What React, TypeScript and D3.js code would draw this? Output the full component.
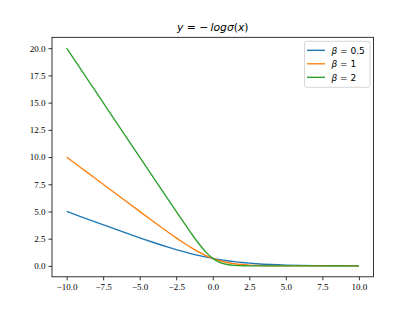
import { FC, useEffect, useRef } from 'react';
import * as d3 from 'd3';

// x positions where the curves were read
const xs = [-10, -9, -8, -7, -6, -5, -4, -3, -2.5, -2, -1.5, -1, -0.5, 0, 0.5, 1, 1.5, 2, 2.5, 3, 4, 5, 6, 7, 8, 9, 10];

const beta05 = [5.007, 4.511, 4.018, 3.53, 3.049, 2.579, 2.127, 1.701, 1.502, 1.313, 1.137, 0.974, 0.826, 0.693, 0.576, 0.474, 0.387, 0.313, 0.252, 0.201, 0.127, 0.079, 0.049, 0.03, 0.018, 0.011, 0.007];
const beta1 = [10.0, 9.0, 8.0, 7.001, 6.002, 5.007, 4.018, 3.049, 2.579, 2.127, 1.701, 1.313, 0.974, 0.693, 0.474, 0.313, 0.201, 0.127, 0.079, 0.049, 0.018, 0.007, 0.002, 0.001, 0.0, 0.0, 0.0];
const beta2 = [20.0, 18.0, 16.0, 14.0, 12.0, 10.0, 8.0, 6.002, 5.007, 4.018, 3.049, 2.127, 1.313, 0.693, 0.313, 0.127, 0.049, 0.018, 0.007, 0.002, 0.0, 0.0, 0.0, 0.0, 0.0, 0.0, 0.0];

const seriesNames = ['0.5', '1', '2'];
const colors = ['#1f77b4', '#ff7f0e', '#2ca02c'];

const xTicks = [-10, -7.5, -5, -2.5, 0, 2.5, 5, 7.5, 10];
const yTicks = [0, 2.5, 5, 7.5, 10, 12.5, 15, 17.5, 20];

const App: FC = () => {
  const chartRef = useRef<HTMLDivElement>(null);

  useEffect(() => {
    const W = 415;
    const H = 311;
    const left = 52, right = 373.5, top = 37.3, bottom = 276.8;
    const tickFont = '"Liberation Serif", "Times New Roman", serif';
    const mathFont = '"DejaVu Sans", sans-serif';

    d3.select(chartRef.current).selectAll('*').remove();
    const svg = d3
      .select(chartRef.current)
      .append('svg')
      .attr('width', W)
      .attr('height', H)
      .style('display', 'block');

    svg.append('rect').attr('width', W).attr('height', H).attr('fill', '#fff');

    const x = d3.scaleLinear().domain([-11, 11]).range([left, right]);
    const y = d3.scaleLinear().domain([-1, 21]).range([bottom, top]);

    // x axis
    const xAxis = svg
      .append('g')
      .attr('transform', `translate(0,${bottom})`)
      .call(
        d3.axisBottom(x).tickValues(xTicks).tickSize(3.5).tickPadding(3).tickFormat(d3.format('.1f'))
      );
    xAxis.select('.domain').remove();
    xAxis.selectAll('line').attr('stroke', '#000').attr('stroke-width', 0.8);
    xAxis
      .selectAll('text')
      .attr('font-family', tickFont)
      .attr('font-size', 9)
      .attr('fill', '#000')
      .text((d) => d3.format('.1f')(d as number).replace('-', '\u2212'));

    // y axis
    const yAxis = svg
      .append('g')
      .attr('transform', `translate(${left},0)`)
      .call(d3.axisLeft(y).tickValues(yTicks).tickSize(3.5).tickPadding(3).tickFormat(d3.format('.1f')));
    yAxis.select('.domain').remove();
    yAxis.selectAll('line').attr('stroke', '#000').attr('stroke-width', 0.8);
    yAxis.selectAll('text').attr('font-family', tickFont).attr('font-size', 9).attr('fill', '#000');

    // lines
    const line = d3
      .line<number>()
      .x((_, i) => x(xs[i]))
      .y((d) => y(d))
      .curve(d3.curveMonotoneX);

    [beta05, beta1, beta2].forEach((vals, i) => {
      svg
        .append('path')
        .datum(vals)
        .attr('d', line)
        .attr('fill', 'none')
        .attr('stroke', colors[i])
        .attr('stroke-width', 1.35);
    });

    // frame
    svg
      .append('rect')
      .attr('x', left)
      .attr('y', top)
      .attr('width', right - left)
      .attr('height', bottom - top)
      .attr('fill', 'none')
      .attr('stroke', '#000')
      .attr('stroke-width', 0.8);

    // title
    const title = svg
      .append('text')
      .attr('x', (left + right) / 2)
      .attr('y', top - 6.5)
      .attr('text-anchor', 'middle')
      .attr('font-family', mathFont)
      .attr('font-size', 10.8)
      .attr('fill', '#000');
    title.append('tspan').attr('font-style', 'italic').text('y');
    title.append('tspan').text(' = \u2212\u2009');
    title.append('tspan').attr('font-style', 'italic').text('log\u03c3');
    title.append('tspan').text('(');
    title.append('tspan').attr('font-style', 'italic').text('x');
    title.append('tspan').text(')');

    // legend
    const lg = svg.append('g').attr('transform', `translate(${right - 69},${top + 4})`);
    lg.append('rect')
      .attr('width', 65.5)
      .attr('height', 46)
      .attr('rx', 2)
      .attr('fill', '#fff')
      .attr('fill-opacity', 0.8)
      .attr('stroke', '#ccc')
      .attr('stroke-width', 0.8);
    seriesNames.forEach((name, i) => {
      const yy = 9 + i * 13.5;
      lg.append('line')
        .attr('x1', 2.5)
        .attr('x2', 20.5)
        .attr('y1', yy)
        .attr('y2', yy)
        .attr('stroke', colors[i])
        .attr('stroke-width', 1.35);
      const t = lg
        .append('text')
        .attr('x', 27)
        .attr('y', yy + 3.3)
        .attr('font-family', mathFont)
        .attr('font-size', 9)
        .attr('fill', '#000');
      t.append('tspan').attr('font-style', 'italic').text('\u03b2');
      t.append('tspan').text(` = ${name}`);
    });
  }, []);

  return <div ref={chartRef} style={{ position: 'absolute', left: 0, top: 0 }}></div>;
};

export default App;
